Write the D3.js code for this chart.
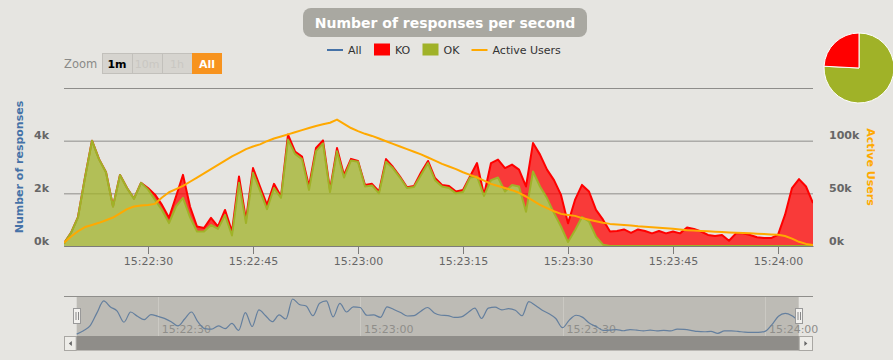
<!DOCTYPE html>
<html><head><meta charset="utf-8">
<script src="https://cdn.jsdelivr.net/npm/d3@7"></script>
<style>
html,body{margin:0;padding:0;background:#e6e5e1;}
svg{display:block;font-family:"DejaVu Sans",sans-serif;}
</style></head><body>
<svg id="c" width="893" height="360"></svg>
<script>
// ---------------- DATA ----------------
const chartTitle = "Number of responses per second";
const startTime = "15:22:18"; // one point per second
const okValues = [100,500,1100,2600,4000,3300,2800,1500,2700,2200,
  1800,2400,2150,1750,1370,870,1500,1830,1100,550,
  550,800,650,1180,400,2400,870,2780,2100,1400,
  2200,1830,4040,3500,3300,2130,3600,3900,2050,3600,
  2600,3250,3200,2260,2300,2000,3200,2950,2600,2200,
  2240,2700,3150,2500,2260,2200,2000,2050,2600,2640,
  1900,2500,2600,2070,2320,2260,1300,2830,2260,1820,
  1250,740,150,600,1100,930,350,50,0,0,
  0,0,0,0,0,0,0,0,0,0,
  0,0,0,0,0,0,0,0,0,0,
  0,0,0,0,0,0,0,0];
const koValues = [0,0,0,0,0,0,0,0,0,0,
  0,0,50,200,190,200,380,870,400,190,
  130,270,90,190,150,240,130,180,160,160,
  160,50,190,90,100,130,120,110,80,120,
  100,60,30,60,60,70,100,50,40,30,
  40,90,80,80,60,80,70,80,40,510,
  40,650,680,890,770,640,960,1080,1210,1080,
  1250,1200,710,1150,1220,1140,1020,950,550,570,
  630,500,630,570,480,570,480,550,480,700,
  650,550,420,380,420,200,480,480,420,330,
  300,300,420,1180,2200,2540,2260,1630];
const activeUsers = [3000,9000,14000,18000,20000,22000,24500,27000,31000,35000,
  37500,38500,39000,40000,46000,51000,54000,57000,61000,65000,
  69000,73000,77000,81000,85000,88500,92000,94500,96500,99500,
  102000,104000,106000,108000,110000,112000,114000,115500,117000,120000,
  116000,112000,109000,106500,104500,102000,99500,97000,94500,92000,
  89500,87000,84000,81000,78000,75500,73000,70000,67500,65000,
  62000,59000,57000,55000,53000,50500,47000,43000,39000,36000,
  33000,30500,29500,28600,26500,25000,23500,22000,21000,20500,
  20000,19500,18700,18200,17800,17300,16800,16300,15700,15000,
  14600,14200,13900,13500,13200,12900,12600,12300,12000,11700,
  11300,11000,10700,9500,7000,4000,2000,1000];
const leftTicks = [0,2000,4000,6000];
const rightTicks = [0,50000,100000,150000];
const pieLabels = ["OK","KO"];
const pieValues = [75.8,24.2];
const legendLabels = ["All","KO","OK","Active Users"];
const zoomLabels = ["1m","10m","1h","All"];
const leftTitle = "Number of responses";
const rightTitle = "Active Users";

// ---------------- STYLE ----------------
const C = {all:"#4572A7", ko:"#FF0000", ok:"#A0B228", users:"#FFA900"};
const svg = d3.select("#c");
const plot = {left:64,right:813,top:88,bottom:246};

const parse = d3.timeParse("%H:%M:%S");
const t0 = parse(startTime);
const rows = okValues.map((v,i)=>({t:new Date(t0.getTime()+i*1000), ok:v, ko:koValues[i], all:v+koValues[i], users:activeUsers[i]}));

const x = d3.scaleTime().domain(d3.extent(rows,d=>d.t)).range([plot.left,plot.right]);
const yL = d3.scaleLinear().domain([0,6000]).range([plot.bottom,plot.top]);
const yR = d3.scaleLinear().domain([0,150000]).range([plot.bottom,plot.top]);

// Title
const tw = 284;
svg.append("rect").attr("x",445-tw/2).attr("y",8).attr("width",tw).attr("height",29).attr("rx",8).attr("fill","#a9a8a1");
svg.append("text").attr("x",445).attr("y",28).attr("text-anchor","middle").attr("fill","#fff")
  .attr("font-weight","bold").attr("font-size",14).text(chartTitle);

// Legend
const legX = [327,374,422.5,471.5];
const legG = svg.append("g").attr("font-size",11).attr("fill","#333");
legendLabels.forEach((lab,i)=>{
  const g = legG.append("g").attr("transform",`translate(${legX[i]},0)`);
  if(i===0 || i===3){
    g.append("line").attr("x1",0).attr("x2",16).attr("y1",50).attr("y2",50)
      .attr("stroke", i===0?C.all:C.users).attr("stroke-width",2);
  } else {
    g.append("rect").attr("x",0).attr("y",43.5).attr("width",16).attr("height",12).attr("fill", i===1?C.ko:C.ok);
  }
  g.append("text").attr("x",21).attr("y",54).text(lab);
});

// Zoom buttons
svg.append("text").attr("x",64).attr("y",67.5).attr("font-size",11.5).attr("fill","#8a8a88").text("Zoom");
zoomLabels.forEach((lab,i)=>{
  const bx = 102 + i*30;
  const isAll = i===3, isOn = i===0;
  svg.append("rect").attr("x",bx+0.5).attr("y",53.5).attr("width",isAll?29:30).attr("height",20)
    .attr("fill", isAll?"#f7931e":"#d6d4cf").attr("stroke", isAll?"#f7931e":"#c2c0bb");
  svg.append("text").attr("x",bx+15).attr("y",68).attr("text-anchor","middle").attr("font-size",11)
    .attr("font-weight", (isAll||isOn)?"bold":"normal")
    .attr("fill", isAll?"#fff":(isOn?"#000":"#c9c7c2")).text(lab);
});

// Left axis + grid
const gL = svg.append("g").attr("transform",`translate(${plot.left},0)`)
  .call(d3.axisLeft(yL).tickValues(leftTicks).tickSize(-(plot.right-plot.left)).tickPadding(15)
    .tickFormat(d=> d===leftTicks[leftTicks.length-1] ? "" : (d/1000)+"k"));
gL.attr("font-family","DejaVu Sans").attr("font-size",11);
gL.select(".domain").remove();
gL.selectAll(".tick line").attr("stroke","#8e8d8a");
gL.selectAll(".tick text").attr("dy",-2).attr("fill","#666").attr("font-weight","bold");

// Right axis labels
const gR = svg.append("g").attr("transform",`translate(${plot.right},0)`)
  .call(d3.axisRight(yR).tickValues(rightTicks).tickSize(0).tickPadding(16)
    .tickFormat(d=> d===rightTicks[rightTicks.length-1] ? "" : (d/1000)+"k"));
gR.attr("font-family","DejaVu Sans").attr("font-size",11);
gR.select(".domain").remove();
gR.selectAll(".tick text").attr("dy",-2).attr("fill","#666").attr("font-weight","bold");

// Axis titles
svg.append("text").attr("transform","translate(23,167) rotate(-90)").attr("text-anchor","middle")
  .attr("font-size",11).attr("font-weight","bold").attr("fill",C.all).text(leftTitle);
svg.append("text").attr("transform","translate(867,167) rotate(90)").attr("text-anchor","middle")
  .attr("font-size",11).attr("font-weight","bold").attr("fill",C.users).text(rightTitle);

// Series
svg.append("clipPath").attr("id","clip").append("rect")
  .attr("x",plot.left).attr("y",plot.top-10).attr("width",plot.right-plot.left).attr("height",plot.bottom-plot.top+11);
const sg = svg.append("g").attr("clip-path","url(#clip)");
const koArea = d3.area().x(d=>x(d.t)).y0(d=>yL(d.ok)).y1(d=>yL(d.all));
const koLine = d3.line().x(d=>x(d.t)).y(d=>yL(d.all));
const okArea = d3.area().x(d=>x(d.t)).y0(yL(0)).y1(d=>yL(d.ok));
const okLine = d3.line().x(d=>x(d.t)).y(d=>yL(d.ok));
sg.append("path").datum(rows).attr("d",koArea).attr("fill",C.ko).attr("fill-opacity",0.75);
sg.append("path").datum(rows).attr("d",koLine).attr("fill","none").attr("stroke",C.ko).attr("stroke-width",2).attr("stroke-linejoin","round");
sg.append("path").datum(rows).attr("d",okArea).attr("fill",C.ok).attr("fill-opacity",0.75);
sg.append("path").datum(rows).attr("d",okLine).attr("fill","none").attr("stroke",C.ok).attr("stroke-width",2).attr("stroke-linejoin","round");

// X axis
const gX = svg.append("g").attr("transform",`translate(0,${plot.bottom})`)
  .call(d3.axisBottom(x).ticks(d3.timeSecond.every(15)).tickFormat(d3.timeFormat("%H:%M:%S"))
    .tickSize(8).tickPadding(3).tickSizeOuter(0));
gX.attr("font-family","DejaVu Sans").attr("font-size",11);
gX.select(".domain").attr("stroke","#7d7c79");
gX.selectAll(".tick line").attr("stroke","#7d7c79");
gX.selectAll(".tick text").attr("fill","#666");

// Active users line
const uLine = d3.line().x(d=>x(d.t)).y(d=>yR(d.users));
sg.append("path").datum(rows).attr("d",uLine).attr("fill","none").attr("stroke",C.users).attr("stroke-width",2).attr("stroke-linejoin","round");

// Pie
const pie = d3.pie().sort(null).value(d=>d)(pieValues);
const arc = d3.arc().innerRadius(0).outerRadius(35);
svg.append("g").attr("transform","translate(859,68)").selectAll("path").data(pie).join("path")
  .attr("d",arc).attr("fill",(d,i)=> pieLabels[i]==="OK"?C.ok:C.ko).attr("stroke","#fff").attr("stroke-width",1);

// Navigator
const nav = {left:64,right:813,top:296,bottom:336,dl:76.7,dr:798.7};
const xN = d3.scaleTime().domain(d3.extent(rows,d=>d.t)).range([nav.dl,nav.dr]);
const yN = d3.scaleLinear().domain([0,d3.max(rows,d=>d.all)]).range([nav.bottom-1,nav.top+3]);
svg.append("rect").attr("x",nav.dl).attr("y",nav.top).attr("width",nav.dr-nav.dl).attr("height",nav.bottom-nav.top).attr("fill","#bdbbb5");
const nticks = xN.ticks(d3.timeSecond.every(30));
svg.append("g").selectAll("line").data(nticks).join("line")
  .attr("x1",d=>Math.round(xN(d))+0.5).attr("x2",d=>Math.round(xN(d))+0.5).attr("y1",nav.top).attr("y2",nav.bottom)
  .attr("stroke","#cbc9c3");
svg.append("g").selectAll("text").data(nticks).join("text")
  .attr("x",d=>xN(d)+4).attr("y",333).attr("font-size",11).attr("fill","#8f8e8a")
  .text(d3.timeFormat("%H:%M:%S"));
svg.append("line").attr("x1",nav.left).attr("x2",nav.right).attr("y1",nav.top+0.5).attr("y2",nav.top+0.5).attr("stroke","#8f8e8b");
const nLine = d3.line().x(d=>xN(d.t)).y(d=>yN(d.all)).curve(d3.curveMonotoneX);
svg.append("path").datum(rows).attr("d",nLine).attr("fill","none").attr("stroke","#647f9e").attr("stroke-width",1.2);
// handles
[nav.dl, nav.dr].forEach(hx=>{
  const g = svg.append("g").attr("transform",`translate(${Math.round(hx)},308)`);
  g.append("rect").attr("x",-3.5).attr("y",0.5).attr("width",7).attr("height",15).attr("fill","#f2f1ee").attr("stroke","#999");
  g.append("line").attr("x1",-1).attr("x2",-1).attr("y1",4).attr("y2",12).attr("stroke","#888");
  g.append("line").attr("x1",1.5).attr("x2",1.5).attr("y1",4).attr("y2",12).attr("stroke","#888");
});
// scrollbar
svg.append("rect").attr("x",nav.left).attr("y",336).attr("width",nav.right-nav.left).attr("height",14.5).attr("fill","#8f8d89");
[[nav.left, -1],[nav.dr, 1]].forEach(([bx,dir])=>{
  const w = dir<0 ? nav.dl-nav.left : nav.right-nav.dr;
  svg.append("rect").attr("x",bx+0.5).attr("y",336.5).attr("width",w-1).attr("height",14).attr("fill","#edece8").attr("stroke","#a9a7a3");
  const cx = bx + w/2, cy = 343.5;
  svg.append("path").attr("d", dir<0 ? `M${cx+1.5},${cy-2.5}L${cx-1.5},${cy}L${cx+1.5},${cy+2.5}Z` : `M${cx-1.5},${cy-2.5}L${cx+1.5},${cy}L${cx-1.5},${cy+2.5}Z`)
    .attr("fill","#666");
});
</script>
</body></html>
